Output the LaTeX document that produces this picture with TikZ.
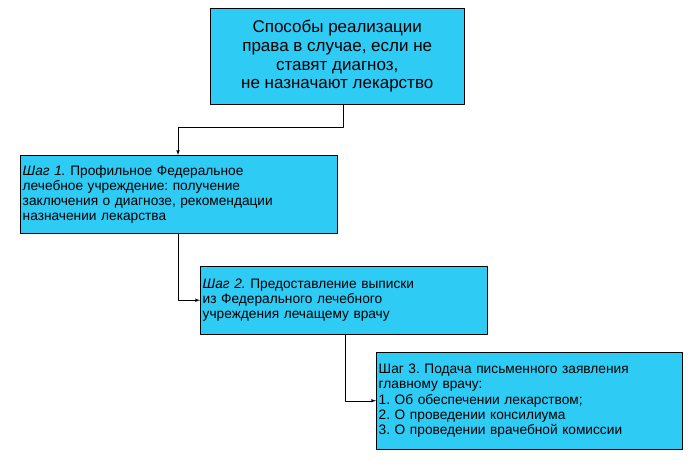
\documentclass[tikz,border=0pt]{standalone}
\usepackage{fontspec}
\setmainfont{Liberation Sans}
\frenchspacing
\usetikzlibrary{positioning}
\definecolor{boxcyan}{HTML}{2ECBF5}
\begin{document}
\begin{tikzpicture}[>=latex,line join=bevel,x=0.03cm,y=-0.03cm,
  stepbox/.style={draw,fill=boxcyan,inner sep=2pt,anchor=north west}]
%%
  \useasboundingbox (0,0) rectangle (700,473);

  \node (node_0) at (210,8) [stepbox,minimum width=254*0.03cm,minimum height=96*0.03cm,align=center,font=\fontsize{14.5}{16}\selectfont] {Способы реализации\\ права в случае, если не\\ ставят диагноз,\\ не назначают лекарство};

  \node (node_1) at (20,155) [stepbox,minimum width=317*0.03cm,minimum height=78*0.03cm,text width=312*0.03cm,align=left,font=\fontsize{11.7}{12.8}\selectfont] {\textit{Шаг 1.} Профильное Федеральное\\ лечебное учреждение: получение\\ заключения о диагнозе, рекомендации\\ назначении лекарства};

  \node (node_2) at (200,266) [stepbox,minimum width=287*0.03cm,minimum height=68*0.03cm,text width=282*0.03cm,align=left,font=\fontsize{11.7}{12.8}\selectfont] {\textit{Шаг 2.} Предоставление выписки\\ из Федерального лечебного\\ учреждения лечащему врачу};

  \node (node_3) at (376,352) [stepbox,minimum width=306*0.03cm,minimum height=97*0.03cm,text width=301*0.03cm,align=left,font=\fontsize{11.7}{13}\selectfont] {Шаг 3. Подача письменного заявления\\ главному врачу:\\ 1. Об обеспечении лекарством;\\ 2. О проведении консилиума\\ 3. О проведении врачебной комиссии};

  \draw [black,->] (343,104) |- (178,127) -- (178,155);
  \draw [black,->] (178,233) |- (node_2.west);
  \draw [black,->] (345,334) |- (node_3.west);
%
\end{tikzpicture}
\end{document}
